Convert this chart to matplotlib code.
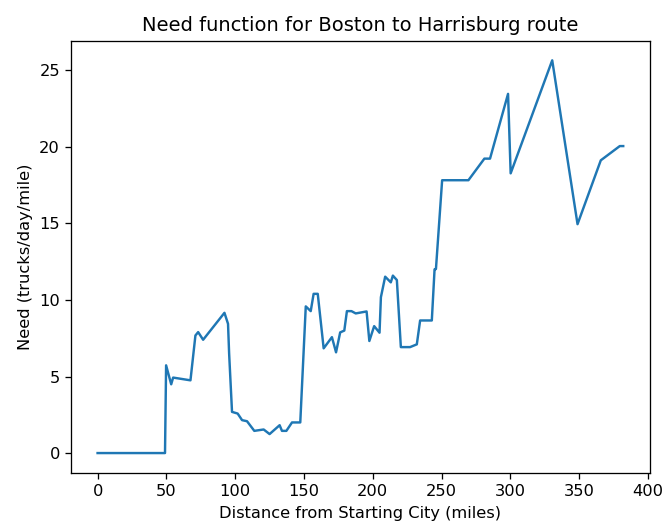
import matplotlib
matplotlib.use("Agg")
import matplotlib.pyplot as plt

distance = [0, 49, 49.8, 53.5, 54.9, 67.5, 71.1, 73.1, 76.7, 92.2, 94.8, 95.6, 97.7,
            101.8, 105, 108.6, 113.9, 120.7, 125, 132.3, 134, 137.2, 141.3, 147.3,
            151.3, 154.9, 157, 160, 164.3, 170.3, 173.3, 176.3, 179.3, 181.2, 184.5,
            187.6, 195.5, 197.5, 201, 204.9, 205.9, 209, 213.1, 214.6, 217.5, 220.4,
            227.1, 232, 234.4, 242.9, 244.9, 245.9, 250.4, 269.5, 281.1, 285.2, 298.3,
            300.2, 330.4, 348.8, 365.7, 379.5, 382]
need = [0, 0, 5.73, 4.49, 4.93, 4.75, 7.68, 7.9, 7.4, 9.16, 8.44, 6.5, 2.69,
        2.58, 2.15, 2.08, 1.45, 1.54, 1.24, 1.82, 1.45, 1.45, 2.0, 2.0,
        9.58, 9.27, 10.4, 10.4, 6.84, 7.57, 6.58, 7.88, 8.0, 9.27, 9.27,
        9.12, 9.25, 7.32, 8.29, 7.86, 10.18, 11.52, 11.15, 11.59, 11.3, 6.92,
        6.92, 7.1, 8.66, 8.66, 12.0, 12.02, 17.82, 17.82, 19.23, 19.23, 23.46,
        18.27, 25.65, 14.95, 19.12, 20.05, 20.05]

D = 116.7
fig = plt.figure(figsize=(664 / D, 523 / D), dpi=D)
ax = fig.add_axes([71.3 / 664, 1 - 472.7 / 523, (649.5 - 71.3) / 664, (472.7 - 40.7) / 523])
ax.plot(distance, need, color="#1f77b4", linewidth=1.5)
ax.set_title("Need function for Boston to Harrisburg route")
ax.set_xlabel("Distance from Starting City (miles)")
ax.set_ylabel("Need (trucks/day/mile)")
fig.savefig("out.png", dpi=D)
